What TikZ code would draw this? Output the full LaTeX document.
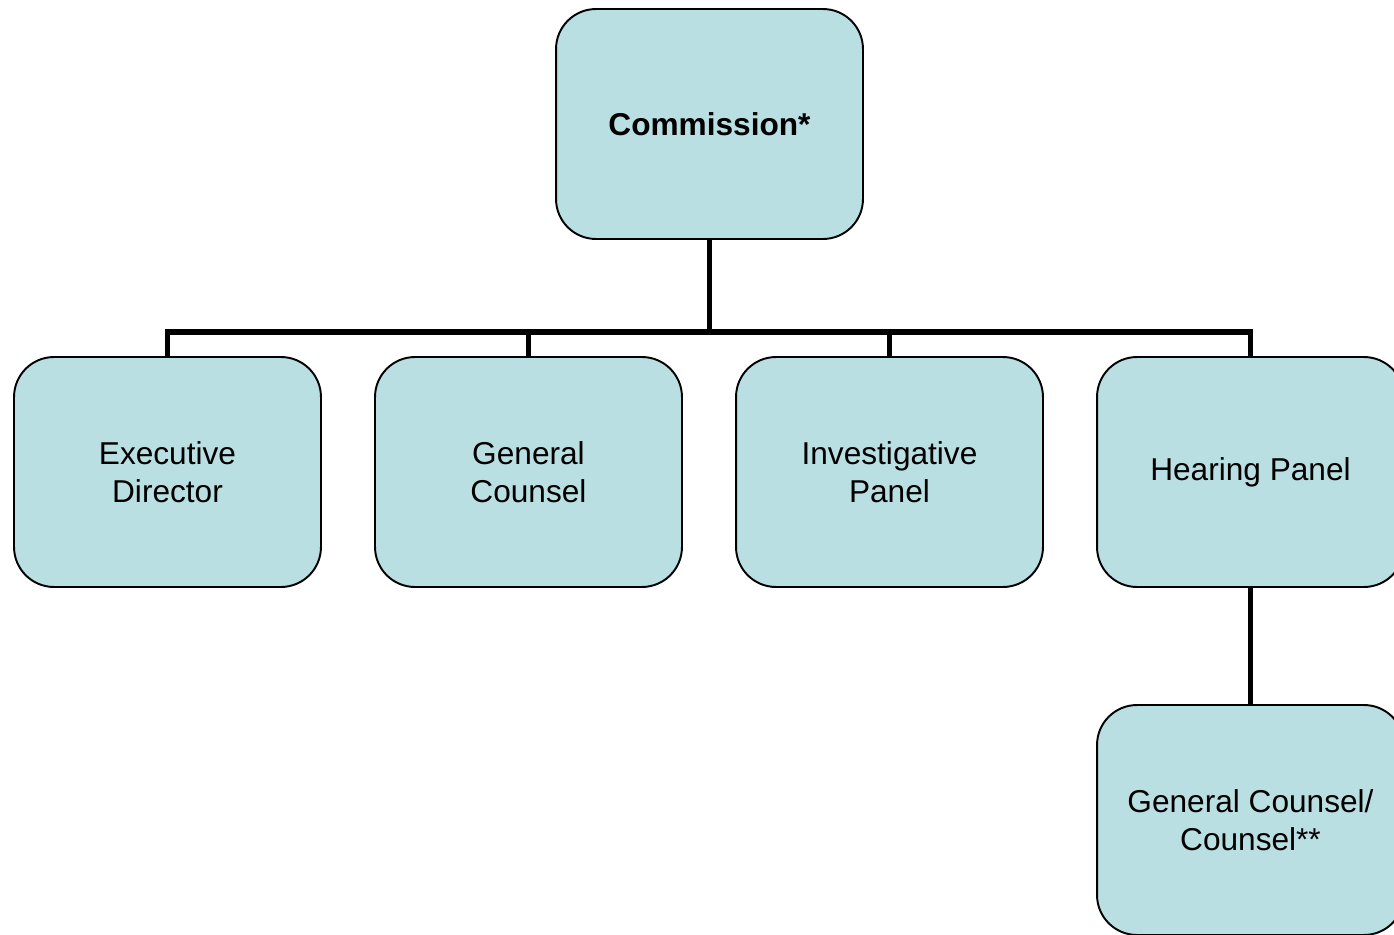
\documentclass[tikz,border=0pt]{standalone}
\usepackage{fontspec}
\setmainfont{Liberation Sans}
\usepackage{tikz}
\usetikzlibrary{positioning}

\definecolor{boxfill}{RGB}{185,223,227}

\begin{document}
\begin{tikzpicture}[
    x=0.02cm, y=-0.02cm,
    unit/.style={rectangle, rounded corners=0.8cm, draw, line width=1.1pt, fill=boxfill,
        minimum width=6.14cm, minimum height=4.6cm, align=center, inner sep=0pt,
        font=\fontsize{18}{21.5}\selectfont},
    link/.style={line width=3.1pt},
]
\useasboundingbox (0,0) rectangle (1394,934);

% Draw the chart
\node[unit, font=\fontsize{18}{21.5}\selectfont\bfseries] (comm) at (709.5,124) {Commission*};
\node[unit] (exec) at (167.5,472) {Executive\\Director};
\node[unit] (gen) at (528.5,472) {General\\Counsel};
\node[unit] (inv) at (889.5,472) {Investigative\\Panel};
\node[unit] (hear) at (1250.5,472) {Hearing Panel};
\node[unit] (hgc) at (1250.5,820) {General Counsel/\\Counsel**};

\coordinate (bar) at (709.5,332);

\draw[link] (comm.south) -- (bar);
\draw[link] (bar) -| (exec.north);
\draw[link] (bar) -| (gen.north);
\draw[link] (bar) -| (inv.north);
\draw[link] (bar) -| (hear.north);
\draw[link] (hear.south) -- (hgc.north);

\end{tikzpicture}
\end{document}
